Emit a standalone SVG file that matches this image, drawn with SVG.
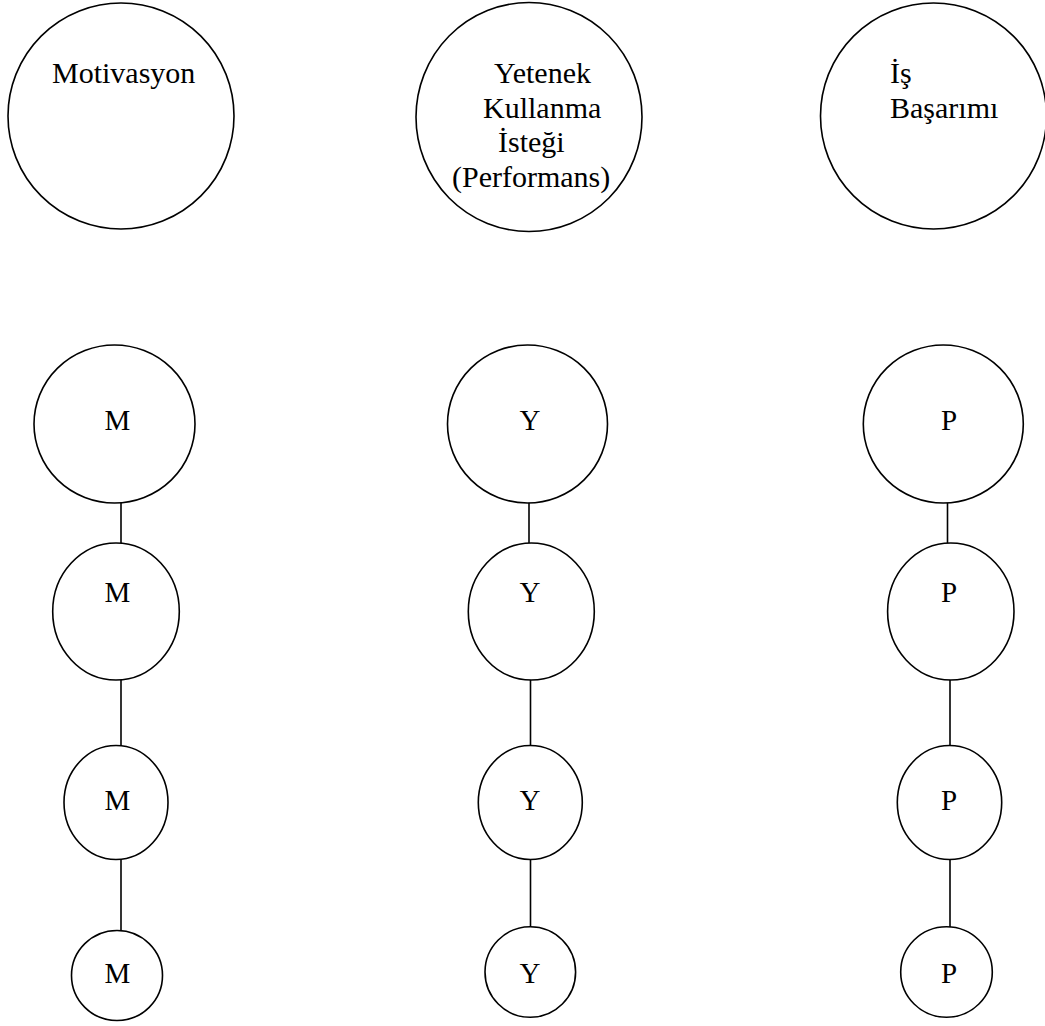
<svg xmlns="http://www.w3.org/2000/svg" width="1045" height="1026" viewBox="0 0 1045 1026">
  <style>
    .node { fill: #ffffff; stroke: #000000; stroke-width: 1.6; }
    .link { stroke: #000000; stroke-width: 1.6; fill: none; }
    .title { font-family: "Liberation Serif", "Times New Roman", serif; font-size: 30px; fill: #000000; }
    .label { font-family: "Liberation Serif", "Times New Roman", serif; font-size: 29px; fill: #000000; text-anchor: middle; }
  </style>
  <rect width="1045" height="1026" fill="#ffffff"/>

  <!-- headline concepts -->
  <g id="motivasyon">
    <ellipse class="node" cx="121" cy="116" rx="113" ry="113"/>
    <text class="title" x="52" y="83">Motivasyon</text>
  </g>
  <g id="yetenek">
    <ellipse class="node" cx="529" cy="117" rx="113" ry="114.5"/>
    <text class="title" x="494" y="83">Yetenek</text>
    <text class="title" x="483" y="118">Kullanma</text>
    <text class="title" x="498" y="152">İsteği</text>
    <text class="title" x="452" y="187">(Performans)</text>
  </g>
  <g id="is-basarimi">
    <ellipse class="node" cx="933.5" cy="116" rx="113" ry="113"/>
    <text class="title" x="890" y="83">İş</text>
    <text class="title" x="890" y="118">Başarımı</text>
  </g>

  <!-- connectors between stacked nodes -->
  <g id="connectors">
    <line class="link" x1="121" y1="502" x2="121" y2="543"/>
    <line class="link" x1="121" y1="657" x2="121" y2="746"/>
    <line class="link" x1="121" y1="859" x2="121" y2="949"/>

    <line class="link" x1="529" y1="502" x2="529" y2="543"/>
    <line class="link" x1="530.5" y1="657" x2="530.5" y2="746"/>
    <line class="link" x1="530.5" y1="859" x2="530.5" y2="949"/>

    <line class="link" x1="947.5" y1="502" x2="947.5" y2="543"/>
    <line class="link" x1="950" y1="657" x2="950" y2="746"/>
    <line class="link" x1="950" y1="859" x2="950" y2="949"/>
  </g>

  <!-- M column -->
  <g id="m1">
    <ellipse class="node" cx="114.5" cy="424" rx="80.5" ry="79"/>
    <text class="label" x="117.5" y="430">M</text>
  </g>
  <g id="m2">
    <ellipse class="node" cx="116" cy="611.5" rx="63.3" ry="68.5"/>
    <text class="label" x="117.5" y="602">M</text>
  </g>
  <g id="m3">
    <ellipse class="node" cx="116" cy="802.5" rx="52" ry="57"/>
    <text class="label" x="117.5" y="810">M</text>
  </g>
  <g id="m4">
    <ellipse class="node" cx="117" cy="975.5" rx="45.5" ry="45"/>
    <text class="label" x="117.5" y="983">M</text>
  </g>

  <!-- Y column -->
  <g id="y1">
    <ellipse class="node" cx="527.5" cy="424" rx="80" ry="79"/>
    <text class="label" x="530" y="430">Y</text>
  </g>
  <g id="y2">
    <ellipse class="node" cx="531.3" cy="611.5" rx="63" ry="68.5"/>
    <text class="label" x="530" y="602">Y</text>
  </g>
  <g id="y3">
    <ellipse class="node" cx="530.3" cy="802.5" rx="52" ry="57"/>
    <text class="label" x="530" y="810">Y</text>
  </g>
  <g id="y4">
    <ellipse class="node" cx="530.3" cy="972" rx="45.3" ry="45.3"/>
    <text class="label" x="530" y="983">Y</text>
  </g>

  <!-- P column -->
  <g id="p1">
    <ellipse class="node" cx="943.3" cy="424" rx="80" ry="79"/>
    <text class="label" x="949" y="430">P</text>
  </g>
  <g id="p2">
    <ellipse class="node" cx="950.8" cy="611.5" rx="63.2" ry="68.5"/>
    <text class="label" x="949" y="602">P</text>
  </g>
  <g id="p3">
    <ellipse class="node" cx="949.5" cy="802.5" rx="52.2" ry="57"/>
    <text class="label" x="949" y="810">P</text>
  </g>
  <g id="p4">
    <ellipse class="node" cx="946.5" cy="972" rx="45.8" ry="45.3"/>
    <text class="label" x="949" y="983">P</text>
  </g>
</svg>
